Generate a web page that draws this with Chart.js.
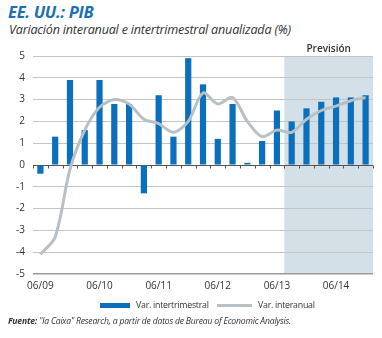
<!DOCTYPE html>
<html>
<head>
<meta charset="utf-8">
<script src="https://cdn.jsdelivr.net/npm/chart.js@4.4.1/dist/chart.umd.min.js"></script>
<style>
  body { margin: 0; width: 382px; height: 338px; background: #fff; position: relative; overflow: hidden; font-family: "Open Sans", sans-serif; color: #333; }
  #title { position: absolute; left: 8px; top: 0px; font-size: 16.5px; font-weight: bold; font-style: italic; color: #1a6fb8; letter-spacing: -0.3px; }
  #subtitle { position: absolute; left: 9px; top: 21px; font-size: 12.6px; font-style: italic; color: #333; letter-spacing: -0.2px; }
  #wrap { position: absolute; left: 0; top: 40px; width: 382px; height: 262px; }
  .lg { position: absolute; font-size: 8.8px; color: #333; white-space: nowrap; line-height: 12px; letter-spacing: -0.25px; }
  .sw { position: absolute; }
  #footer { position: absolute; left: 8px; top: 315px; font-size: 8.6px; font-style: italic; color: #333; letter-spacing: -0.2px; }
</style>
</head>
<body>
<div id="title">EE. UU.: PIB</div>
<div id="subtitle">Variación interanual e intertrimestral anualizada (%)</div>
<div id="wrap"><canvas id="myChart"></canvas></div>
<div class="sw" style="left:100px;top:303px;width:30px;height:5px;background:#0a6fbd"></div>
<div class="lg" style="left:136px;top:299px">Var. intertrimestral</div>
<div class="sw" style="left:217px;top:304px;width:35px;height:3px;background:#b7c0c4"></div>
<div class="lg" style="left:258px;top:299px">Var. interanual</div>
<div id="footer"><b>Fuente:</b> "la Caixa" Research, a partir de datos de Bureau of Economic Analysis.</div>
<script>
// quarters, 06/09 .. 12/14
const quarters = ['06/09', '09/09', '12/09', '03/10', '06/10', '09/10', '12/10', '03/11', '06/11', '09/11', '12/11',
  '03/12', '06/12', '09/12', '12/12', '03/13', '06/13', '09/13', '12/13', '03/14', '06/14', '09/14', '12/14'];
const tickLabels = ['06/09', '06/10', '06/11', '06/12', '06/13', '06/14'];
const intertrimestral = [-0.4, 1.3, 3.9, 1.6, 3.9, 2.8, 2.8, -1.3, 3.2, 1.3, 4.9, 3.7, 1.2, 2.8, 0.1, 1.1, 2.5,
  2.0, 2.6, 2.9, 3.1, 3.1, 3.2];
const interanual = [-4.1, -3.3, -0.2, 1.6, 2.65, 3.0, 2.8, 2.1, 1.9, 1.5, 2.0, 3.3, 2.8, 3.1, 2.0, 1.3, 1.6,
  1.5, 2.1, 2.5, 2.7, 2.95, 3.1];
const forecastFrom = '09/13';

const forecastBox = {
  id: 'forecastBox',
  beforeDraw(chart) {
    const { ctx, chartArea, scales } = chart;
    const x = scales.x, y = scales.y;
    const i = quarters.indexOf(forecastFrom);
    const left = (x.getPixelForValue(i - 1) + x.getPixelForValue(i)) / 2;
    const top = y.getPixelForValue(5);
    ctx.save();
    ctx.fillStyle = '#d3e0e8';
    ctx.fillRect(left, top, chartArea.right - left, y.getPixelForValue(-5) - top);
    ctx.fillStyle = '#333';
    ctx.font = '600 10px "Open Sans"';
    ctx.textAlign = 'center';
    ctx.textBaseline = 'bottom';
    ctx.fillText('Previsión', (left + chartArea.right) / 2, top - 2);
    ctx.restore();
  }
};

// small tick marks under the zero line, at the quarter boundaries
const zeroTicks = {
  id: 'zeroTicks',
  beforeDatasetsDraw(chart) {
    const { ctx, scales } = chart;
    const x = scales.x, y0 = Math.round(scales.y.getPixelForValue(0)) + 0.5;
    ctx.save();
    ctx.strokeStyle = '#555';
    ctx.lineWidth = 1;
    ctx.beginPath();
    for (let i = 0; i <= quarters.length; i++) {
      const px = Math.round(x.getPixelForValue(i - 0.5)) + 0.5;
      ctx.moveTo(px, y0);
      ctx.lineTo(px, y0 + 3);
    }
    ctx.stroke();
    ctx.restore();
  }
};

const ctx = document.getElementById('myChart').getContext('2d');
const chart = new Chart(ctx, {
  type: 'bar',
  data: {
    labels: quarters,
    datasets: [{
      label: 'Var. intertrimestral',
      data: intertrimestral,
      backgroundColor: '#0a6fbd',
      categoryPercentage: 1,
      barPercentage: 0.42,
      order: 1
    },
    {
      type: 'line',
      label: 'Var. interanual',
      data: interanual,
      borderColor: '#b7c0c4',
      borderWidth: 3,
      pointRadius: 0,
      tension: 0.3,
      order: 0
    }]
  },
  options: {
    responsive: true,
    maintainAspectRatio: false,
    animation: false,
    devicePixelRatio: 1,
    layout: { padding: { top: 16, right: 9, left: 0, bottom: 4 } },
    plugins: { legend: { display: false }, tooltip: { enabled: false } },
    scales: {
      x: {
        grid: { display: false, drawTicks: false, tickLength: 0 },
        border: { display: false },
        ticks: {
          autoSkip: false,
          maxRotation: 0,
          padding: 6,
          color: '#333',
          font: { family: 'Open Sans', size: 10 },
          callback: (v, i) => tickLabels.includes(quarters[i]) ? quarters[i] : ''
        }
      },
      y: {
        min: -5,
        max: 5,
        afterFit: (scale) => { scale.width = 33; },
        border: { display: false },
        grid: {
          drawTicks: false,
          color: (c) => c.tick.value === 0 ? '#555' : (c.tick.value === -5 ? '#9a9a9a' : '#c4c4c4'),
          lineWidth: (c) => c.tick.value === -5 ? 1.5 : 1
        },
        ticks: {
          stepSize: 1,
          padding: 8,
          color: '#333',
          font: { family: 'Open Sans', size: 10 }
        }
      }
    }
  },
  plugins: [forecastBox, zeroTicks]
});
</script>
</body>
</html>
